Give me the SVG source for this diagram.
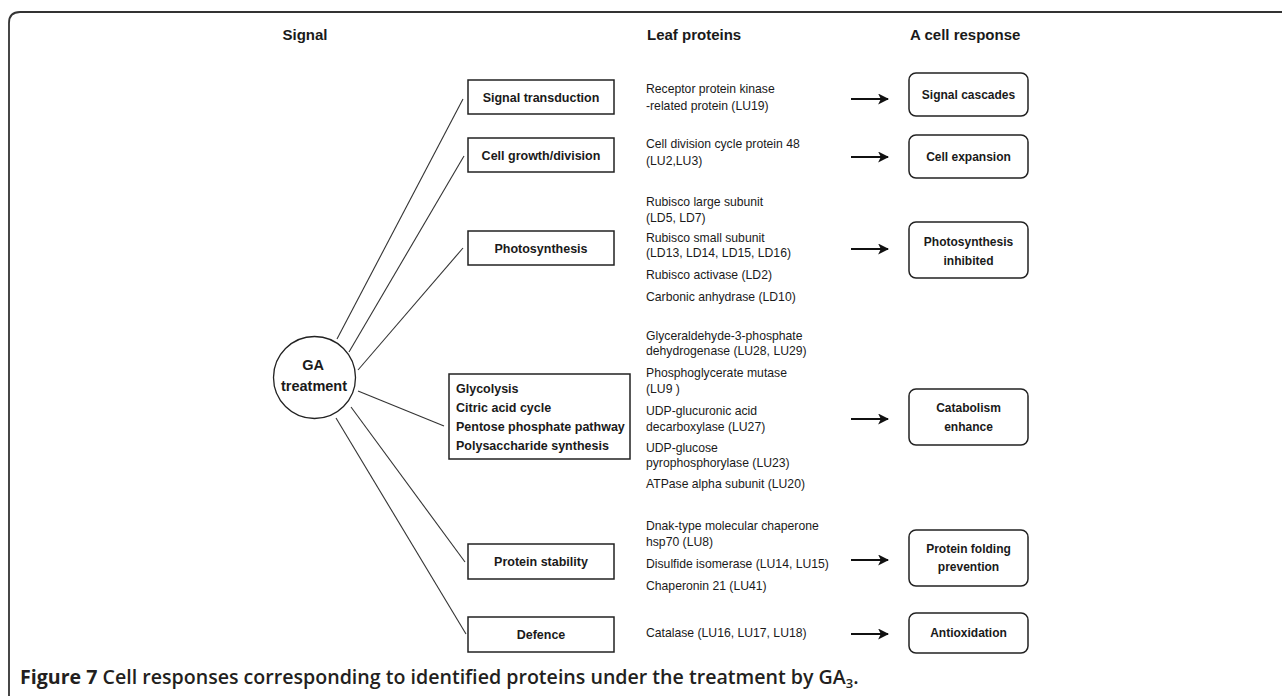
<svg xmlns="http://www.w3.org/2000/svg" width="1282" height="696" viewBox="0 0 1282 696">
<defs>
<style>
.hdr{font-family:"Liberation Sans",Arial,sans-serif;font-size:15px;font-weight:bold;fill:#1a1a1a}
.box{fill:#fff;stroke:#222;stroke-width:1.5}
.rbox{fill:#fff;stroke:#222;stroke-width:1.5}
.blab{font-family:"Liberation Sans",Arial,sans-serif;font-size:12.5px;font-weight:bold;fill:#1a1a1a;text-anchor:middle}
.glab{font-family:"Liberation Sans",Arial,sans-serif;font-size:12.5px;font-weight:bold;fill:#1a1a1a}
.rlab{font-family:"Liberation Sans",Arial,sans-serif;font-size:12px;font-weight:bold;fill:#1a1a1a;text-anchor:middle}
.prot{font-family:"Liberation Sans",Arial,sans-serif;font-size:12.2px;fill:#1a1a1a}
.conn{stroke:#333;stroke-width:1.1;fill:none}
.arr{stroke:#111;stroke-width:2;fill:none}
.cap{font-family:"Open Sans","Noto Sans",sans-serif;font-size:19.6px;font-weight:600;fill:#231f20}
</style>
<marker id="ah" viewBox="0 0 10 10" refX="9" refY="5" markerWidth="5.5" markerHeight="5.5" orient="auto" markerUnits="strokeWidth">
<path d="M0,0 L10,5 L0,10 L2.5,5 Z" fill="#111"/>
</marker>
</defs>
<rect width="1282" height="696" fill="#fff"/>
<path d="M9,696 L9,23 Q9,12 20,12 L1282,12" fill="none" stroke="#333" stroke-width="1.8"/>

<g id="headers">
<text class="hdr" x="305" y="40" text-anchor="middle">Signal</text>
<text class="hdr" x="647" y="40">Leaf proteins</text>
<text class="hdr" x="910" y="40">A cell response</text>
</g>

<g id="connectors">
<line class="conn" x1="337" y1="339" x2="463" y2="99"/>
<line class="conn" x1="349" y1="352" x2="464" y2="156"/>
<line class="conn" x1="358" y1="370" x2="463" y2="248"/>
<line class="conn" x1="358" y1="391" x2="444" y2="426"/>
<line class="conn" x1="351" y1="407" x2="465" y2="562"/>
<line class="conn" x1="336" y1="418" x2="466" y2="634"/>
<line class="arr" x1="851" y1="99" x2="888" y2="99" marker-end="url(#ah)"/>
<line class="arr" x1="851" y1="157" x2="888" y2="157" marker-end="url(#ah)"/>
<line class="arr" x1="851" y1="249" x2="888" y2="249" marker-end="url(#ah)"/>
<line class="arr" x1="851" y1="419" x2="888" y2="419" marker-end="url(#ah)"/>
<line class="arr" x1="851" y1="560" x2="888" y2="560" marker-end="url(#ah)"/>
<line class="arr" x1="851" y1="634" x2="888" y2="634" marker-end="url(#ah)"/>
</g>

<g id="ga">
<circle cx="314.5" cy="377.5" r="41" fill="#fff" stroke="#222" stroke-width="1.3"/>
<text class="blab" x="313" y="370" style="font-size:14.5px">GA</text>
<text class="blab" x="314" y="391" style="font-size:14.5px">treatment</text>
</g>

<g id="signal-transduction">
<rect class="box" x="468" y="80" width="146" height="34"/>
<text class="blab" x="541" y="102">Signal transduction</text>
</g>
<g id="cell-growth">
<rect class="box" x="468" y="138" width="146" height="34"/>
<text class="blab" x="541" y="160">Cell growth/division</text>
</g>
<g id="photosynthesis">
<rect class="box" x="468" y="231" width="146" height="34"/>
<text class="blab" x="541" y="253">Photosynthesis</text>
</g>
<g id="metabolism">
<rect class="box" x="449" y="374" width="181" height="85"/>
<text class="glab" x="456" y="393">Glycolysis</text>
<text class="glab" x="456" y="412">Citric acid cycle</text>
<text class="glab" x="456" y="431">Pentose phosphate pathway</text>
<text class="glab" x="456" y="450">Polysaccharide synthesis</text>
</g>
<g id="protein-stability">
<rect class="box" x="468" y="544" width="146" height="35"/>
<text class="blab" x="541" y="566">Protein stability</text>
</g>
<g id="defence">
<rect class="box" x="468" y="617" width="146" height="35"/>
<text class="blab" x="541" y="639">Defence</text>
</g>

<g id="proteins">
<text class="prot" x="646" y="93">Receptor protein kinase</text>
<text class="prot" x="646" y="110">-related protein (LU19)</text>
<text class="prot" x="646" y="148">Cell division cycle protein 48</text>
<text class="prot" x="646" y="165">(LU2,LU3)</text>
<text class="prot" x="646" y="206">Rubisco large subunit</text>
<text class="prot" x="646" y="222">(LD5, LD7)</text>
<text class="prot" x="646" y="242">Rubisco small subunit</text>
<text class="prot" x="646" y="257">(LD13, LD14, LD15, LD16)</text>
<text class="prot" x="646" y="279">Rubisco activase (LD2)</text>
<text class="prot" x="646" y="301">Carbonic anhydrase (LD10)</text>
<text class="prot" x="646" y="340">Glyceraldehyde-3-phosphate</text>
<text class="prot" x="646" y="355">dehydrogenase (LU28, LU29)</text>
<text class="prot" x="646" y="377">Phosphoglycerate mutase</text>
<text class="prot" x="646" y="393">(LU9 )</text>
<text class="prot" x="646" y="415">UDP-glucuronic acid</text>
<text class="prot" x="646" y="431">decarboxylase (LU27)</text>
<text class="prot" x="646" y="452">UDP-glucose</text>
<text class="prot" x="646" y="467">pyrophosphorylase (LU23)</text>
<text class="prot" x="646" y="488">ATPase alpha subunit (LU20)</text>
<text class="prot" x="646" y="530">Dnak-type molecular chaperone</text>
<text class="prot" x="646" y="546">hsp70 (LU8)</text>
<text class="prot" x="646" y="568">Disulfide isomerase (LU14, LU15)</text>
<text class="prot" x="646" y="590">Chaperonin 21 (LU41)</text>
<text class="prot" x="646" y="637">Catalase (LU16, LU17, LU18)</text>
</g>

<g id="signal-cascades">
<rect class="rbox" x="909" y="73" width="119" height="43" rx="7"/>
<text class="rlab" x="968.5" y="99">Signal cascades</text>
</g>
<g id="cell-expansion">
<rect class="rbox" x="909" y="135" width="119" height="43" rx="7"/>
<text class="rlab" x="968.5" y="161">Cell expansion</text>
</g>
<g id="photosynthesis-inhibited">
<rect class="rbox" x="909" y="222" width="119" height="56" rx="7"/>
<text class="rlab" x="968.5" y="246">Photosynthesis</text>
<text class="rlab" x="968.5" y="265">inhibited</text>
</g>
<g id="catabolism">
<rect class="rbox" x="909" y="389" width="119" height="56" rx="7"/>
<text class="rlab" x="968.5" y="412">Catabolism</text>
<text class="rlab" x="968.5" y="431">enhance</text>
</g>
<g id="protein-folding">
<rect class="rbox" x="909" y="530" width="119" height="56" rx="7"/>
<text class="rlab" x="968.5" y="553">Protein folding</text>
<text class="rlab" x="968.5" y="571">prevention</text>
</g>
<g id="antioxidation">
<rect class="rbox" x="909" y="613" width="119" height="40" rx="7"/>
<text class="rlab" x="968.5" y="637">Antioxidation</text>
</g>

<text class="cap" x="20" y="684"><tspan font-weight="bold">Figure 7</tspan> Cell responses corresponding to identified proteins under the treatment by GA<tspan font-size="13" dy="4">3</tspan><tspan dy="-4">.</tspan></text>
</svg>
